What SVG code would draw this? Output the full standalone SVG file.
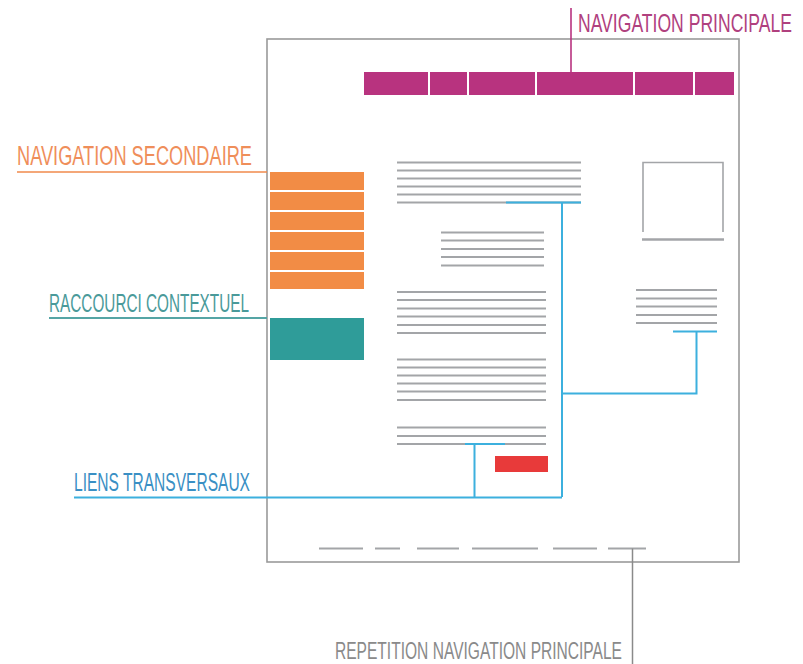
<svg xmlns="http://www.w3.org/2000/svg" width="803" height="664" viewBox="0 0 803 664">
<style>
.lbl{font-family:"Liberation Sans",Arial,sans-serif;}
.gl{stroke:#a3a5a8;stroke-width:2;fill:none;}
.bl{stroke:#3cb0de;stroke-width:2;fill:none;}
</style>
<rect width="803" height="664" fill="#ffffff"/>
<g id="page">
<rect x="267" y="39" width="472" height="523" fill="none" stroke="#9a9a9a" stroke-width="1.6"/>
</g>
<g id="nav-principale">
<g fill="#b8337f">
<rect x="364" y="72" width="64" height="23"/>
<rect x="430" y="72" width="37" height="23"/>
<rect x="469" y="72" width="66" height="23"/>
<rect x="537" y="72" width="96" height="23"/>
<rect x="635" y="72" width="58" height="23"/>
<rect x="695" y="72" width="39" height="23"/>
</g>
<text class="lbl" transform="translate(578 32) scale(0.69 1)" x="0" y="0" font-size="25" fill="#b0407e" textLength="310" lengthAdjust="spacingAndGlyphs">NAVIGATION PRINCIPALE</text>
</g>
<g id="nav-secondaire">
<g fill="#f28c45">
<rect x="270" y="172" width="94" height="18"/>
<rect x="270" y="192" width="94" height="18"/>
<rect x="270" y="212" width="94" height="18"/>
<rect x="270" y="232" width="94" height="18"/>
<rect x="270" y="252" width="94" height="18"/>
<rect x="270" y="272" width="94" height="17"/>
</g>
<text class="lbl" x="17" y="165" font-size="27" fill="#ef8e5a" textLength="235" lengthAdjust="spacingAndGlyphs">NAVIGATION SECONDAIRE</text>
</g>
<g id="raccourci">
<rect x="270" y="318" width="94" height="42" fill="#2f9c99"/>
<text class="lbl" x="49" y="312" font-size="26" fill="#4a9a9a" textLength="200" lengthAdjust="spacingAndGlyphs">RACCOURCI CONTEXTUEL</text>
</g>
<g id="contenu">
<path class="gl" d="M397 162.5H581M397 170.5H581M397 178.5H581M397 186.5H581M397 194.5H581M397 202.5H581"/>
<path class="gl" d="M441 232.5H544M441 240.5H544M441 249H544M441 257H544M441 265.5H544"/>
<path class="gl" d="M397 292H546M397 300H546M397 308.5H546M397 316.5H546M397 325H546M397 333H546"/>
<path class="gl" d="M397 359.5H546M397 367.5H546M397 375.5H546M397 383.5H546M397 391.5H546M397 400H546"/>
<path class="gl" d="M397 427.5H546M397 436H546M397 444H546"/>
<rect x="495" y="456" width="53" height="16" fill="#e83a3a"/>
</g>
<g id="colonne-droite">
<path d="M643 232V162.5H723V232" fill="none" stroke="#a3a5a8" stroke-width="1.6"/>
<path d="M642 239.5H724" stroke="#a3a5a8" stroke-width="2.5"/>
<path class="gl" d="M636 290H717M636 298.5H717M636 306.5H717M636 315H717M636 323H717"/>
</g>
<g id="pied">
<path class="gl" d="M319 548.5H363M375 548.5H400M417 548.5H459M472 548.5H538M553 548.5H597M608 548.5H646"/>
<text class="lbl" x="335" y="659" font-size="23" fill="#8a8a8a" textLength="287" lengthAdjust="spacingAndGlyphs">REPETITION NAVIGATION PRINCIPALE</text>
</g>
<g id="liens-label">
<text class="lbl" x="74" y="491" font-size="25" fill="#3a8fc4" textLength="176" lengthAdjust="spacingAndGlyphs">LIENS TRANSVERSAUX</text>
</g>
<g id="connecteurs">
<path d="M571 8V72" stroke="#b8337f" stroke-width="1.6" fill="none"/>
<path d="M17 172H267" stroke="#f08a4b" stroke-width="1.6" fill="none"/>
<path d="M49 318H267" stroke="#55a5a5" stroke-width="1.8" fill="none"/>
<path d="M632.5 548.5V664" stroke="#8a8a8a" stroke-width="1.5" fill="none"/>
<path class="bl" d="M506 202.5H581M562 202.5V497M74 497.5H562M465 444H505M474.5 444V497M562 393.5H696.5V331.5M673 331.5H717"/>
</g>
</svg>
